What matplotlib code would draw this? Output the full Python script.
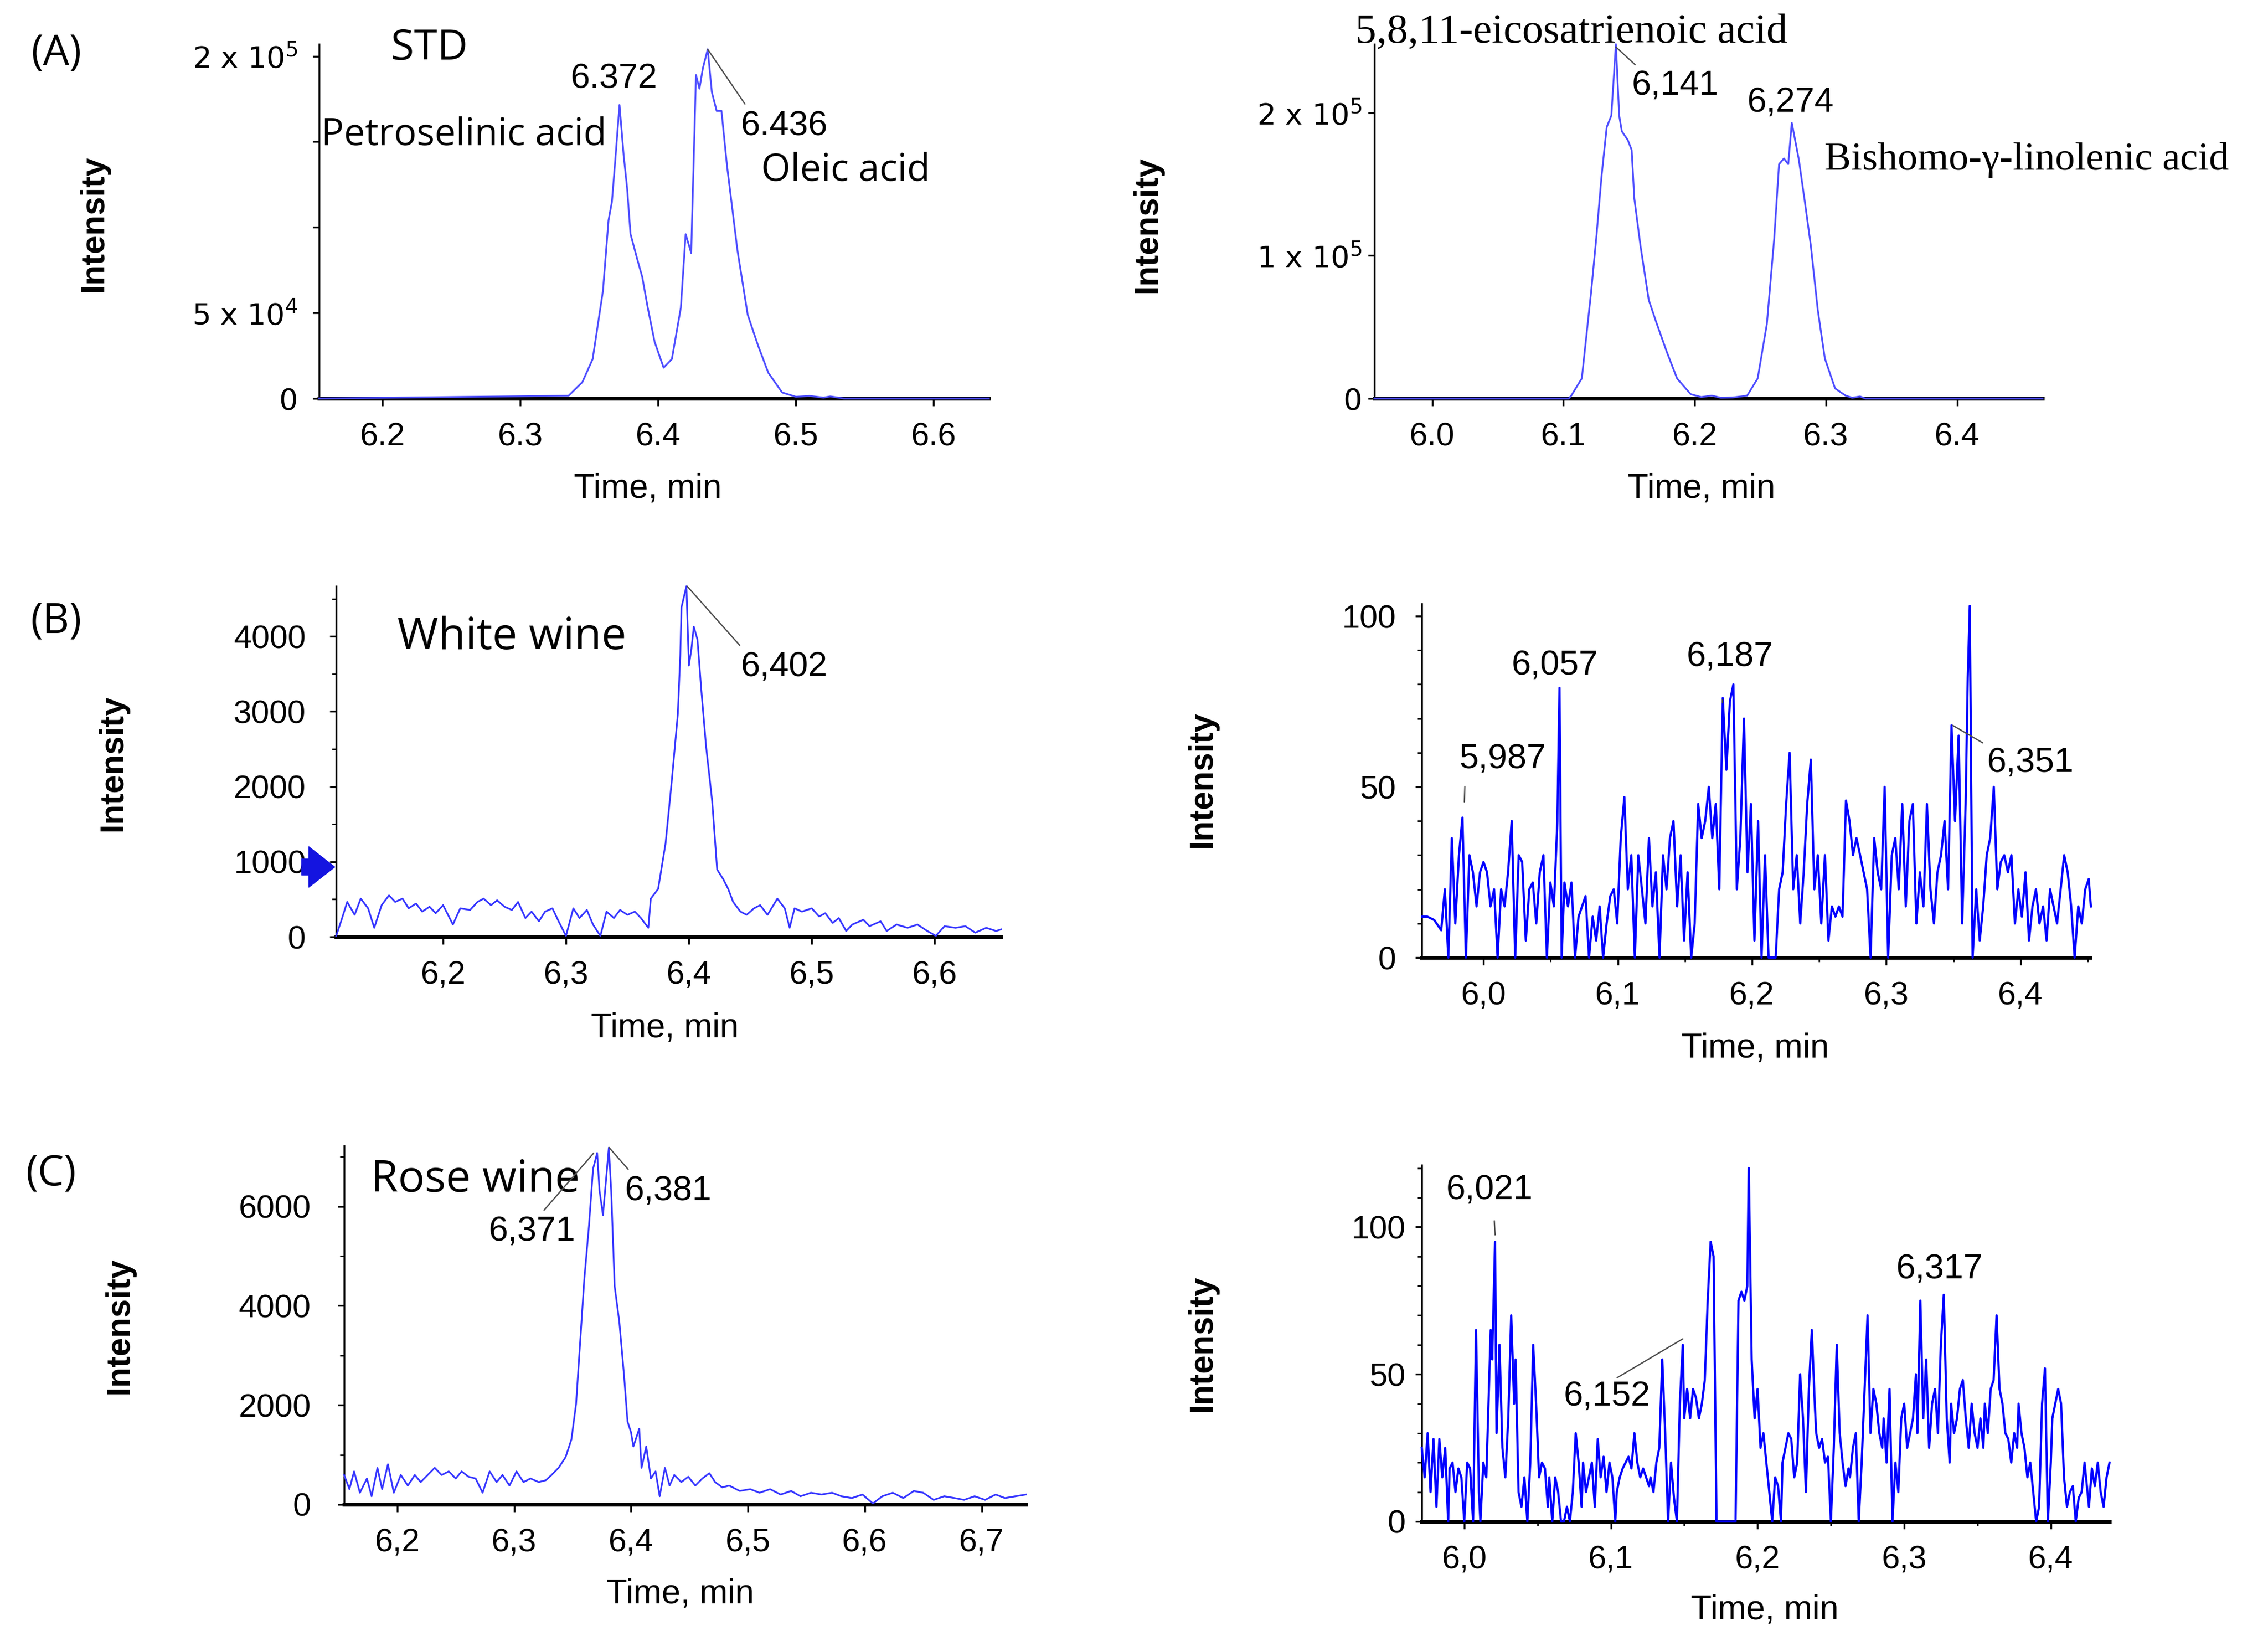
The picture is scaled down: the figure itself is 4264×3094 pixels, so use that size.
import matplotlib.pyplot as plt
from matplotlib.ticker import MultipleLocator

plt.rcParams['font.family'] = ['Liberation Sans', 'DejaVu Sans']
plt.rcParams['mathtext.fontset'] = 'dejavusans'
plt.rcParams['mathtext.default'] = 'regular'

# ---------------------------------------------------------------- data
# (A) standards: petroselinic / oleic acid
std1_time = [6.154, 6.335, 6.345, 6.3525, 6.36, 6.364, 6.3665, 6.369, 6.372,
             6.375, 6.3775, 6.38, 6.385, 6.3885, 6.3925, 6.3975, 6.404, 6.41,
             6.4165, 6.42, 6.424, 6.4275, 6.43, 6.4325, 6.436, 6.439, 6.4425,
             6.446, 6.45, 6.4575, 6.465, 6.4725, 6.48, 6.49, 6.5, 6.51, 6.52,
             6.525, 6.535, 6.64]
std1_intensity = [0, 1600, 9500, 23000, 63000, 104000, 115000, 140000, 171500,
                  142000, 123000, 96000, 81000, 71000, 53000, 33000, 18000,
                  23000, 53000, 96000, 85000, 189000, 181000, 193000, 204000,
                  179000, 168000, 168000, 136000, 87000, 49000, 31000, 15000,
                  3500, 1000, 1500, 500, 1200, 0, 0]

# (A) standards: 5,8,11-eicosatrienoic / bishomo-gamma-linolenic acid
std2_time = [5.956, 6.104, 6.106, 6.114, 6.121, 6.125, 6.129, 6.133, 6.1365,
             6.140, 6.1425, 6.1445, 6.149, 6.152, 6.154, 6.1587, 6.165, 6.1705,
             6.1786, 6.1866, 6.197, 6.205, 6.213, 6.22, 6.229, 6.236, 6.24,
             6.248, 6.255, 6.2606, 6.2643, 6.268, 6.2713, 6.274, 6.2794, 6.2842,
             6.2885, 6.2938, 6.2992, 6.307, 6.315, 6.32, 6.326, 6.33, 6.465]
std2_intensity = [0, 0, 2000, 14000, 73500, 112000, 155000, 190000, 198000,
                  248000, 198000, 187000, 181000, 174000, 140000, 107000, 69000,
                  54000, 33000, 14000, 3000, 1000, 2000, 500, 700, 1500, 2000,
                  14000, 52000, 112000, 164000, 168000, 164000, 193000, 167000,
                  136000, 107000, 62000, 28000, 7000, 2000, 500, 1400, 0, 0]

# (B) white wine, left trace
white1_time = [6.113, 6.117, 6.122, 6.128, 6.133, 6.139, 6.144, 6.150, 6.156, 6.161,
               6.167, 6.172, 6.178, 6.183, 6.189, 6.194, 6.200, 6.208, 6.214, 6.222,
               6.228, 6.233, 6.239, 6.244, 6.250, 6.256, 6.261, 6.267, 6.272, 6.278,
               6.283, 6.289, 6.294, 6.300, 6.306, 6.311, 6.317, 6.322, 6.328, 6.333,
               6.339, 6.344, 6.350, 6.356, 6.361, 6.367, 6.369, 6.375, 6.381, 6.386,
               6.391, 6.393, 6.394, 6.398, 6.400, 6.402, 6.404, 6.407, 6.410, 6.414,
               6.419, 6.423, 6.428, 6.432, 6.436, 6.442, 6.447, 6.453, 6.458, 6.464,
               6.472, 6.478, 6.482, 6.486, 6.492, 6.500, 6.506, 6.511, 6.517, 6.522,
               6.528, 6.533, 6.542, 6.547, 6.556, 6.561, 6.569, 6.578, 6.586, 6.594,
               6.601, 6.608, 6.617, 6.625, 6.633, 6.642, 6.650, 6.654]
white1_intensity = [13, 207, 465, 293, 509, 380, 120, 422, 552, 465,
                    509, 380, 444, 336, 401, 315, 422, 164, 380, 358,
                    465, 509, 422, 487, 401, 358, 465, 250, 336, 207,
                    336, 380, 207, 13, 380, 250, 358, 164, 13, 336,
                    250, 358, 293, 336, 250, 120, 509, 638, 1241, 2060,
                    2965, 3741, 4388, 4668, 3612, 3827, 4129, 3957, 3310, 2534,
                    1802, 896, 767, 638, 465, 336, 293, 380, 422, 293,
                    509, 380, 120, 380, 336, 380, 271, 315, 185, 250,
                    78, 164, 228, 142, 207, 78, 164, 120, 164, 78,
                    13, 142, 120, 142, 56, 120, 78, 99]

# (B) white wine, right trace
white2_time = [5.9544, 5.9581, 5.9633, 5.9685, 5.9712, 5.9738, 5.9764, 5.9790, 5.9817, 5.9843,
               5.9869, 5.9895, 5.9921, 5.9948, 5.9974, 6.0000, 6.0026, 6.0052, 6.0079, 6.0105,
               6.0131, 6.0157, 6.0183, 6.0210, 6.0236, 6.0262, 6.0288, 6.0315, 6.0341, 6.0367,
               6.0393, 6.0419, 6.0446, 6.0472, 6.0498, 6.0524, 6.0550, 6.0566, 6.0582, 6.0603,
               6.0629, 6.0655, 6.0682, 6.0708, 6.0734, 6.0760, 6.0786, 6.0813, 6.0839, 6.0865,
               6.0891, 6.0917, 6.0944, 6.0970, 6.0996, 6.1022, 6.1049, 6.1075, 6.1101, 6.1127,
               6.1153, 6.1180, 6.1206, 6.1232, 6.1258, 6.1284, 6.1311, 6.1337, 6.1363, 6.1389,
               6.1415, 6.1442, 6.1468, 6.1494, 6.1520, 6.1547, 6.1573, 6.1599, 6.1625, 6.1651,
               6.1678, 6.1704, 6.1730, 6.1756, 6.1782, 6.1809, 6.1835, 6.1861, 6.1887, 6.1913,
               6.1940, 6.1966, 6.1992, 6.2018, 6.2045, 6.2071, 6.2097, 6.2123, 6.2149, 6.2176,
               6.2202, 6.2228, 6.2254, 6.2280, 6.2307, 6.2333, 6.2359, 6.2385, 6.2411, 6.2438,
               6.2464, 6.2490, 6.2516, 6.2543, 6.2569, 6.2595, 6.2621, 6.2647, 6.2674, 6.2700,
               6.2726, 6.2752, 6.2778, 6.2805, 6.2831, 6.2857, 6.2883, 6.2910, 6.2936, 6.2962,
               6.2988, 6.3014, 6.3041, 6.3067, 6.3093, 6.3119, 6.3145, 6.3172, 6.3198, 6.3224,
               6.3250, 6.3277, 6.3303, 6.3329, 6.3355, 6.3381, 6.3408, 6.3434, 6.3460, 6.3486,
               6.3512, 6.3539, 6.3565, 6.3591, 6.3607, 6.3622, 6.3643, 6.3670, 6.3696, 6.3722,
               6.3748, 6.3774, 6.3801, 6.3827, 6.3853, 6.3879, 6.3906, 6.3932, 6.3958, 6.3984,
               6.4010, 6.4037, 6.4063, 6.4089, 6.4115, 6.4141, 6.4168, 6.4194, 6.4220, 6.4246,
               6.4272, 6.4299, 6.4325, 6.4351, 6.4377, 6.4403, 6.4430, 6.4456, 6.4482, 6.4508,
               6.4524]
white2_intensity = [12, 12, 11, 8, 20, 0, 35, 10, 30, 41,
                    0, 30, 25, 15, 25, 28, 25, 15, 20, 0,
                    20, 15, 25, 40, 0, 30, 28, 5, 20, 22,
                    10, 25, 30, 0, 22, 15, 40, 79, 0, 22,
                    15, 22, 0, 12, 15, 18, 0, 12, 5, 15,
                    0, 10, 18, 20, 10, 35, 47, 20, 30, 0,
                    30, 20, 10, 35, 15, 25, 0, 30, 20, 35,
                    40, 15, 30, 5, 25, 0, 10, 45, 35, 40,
                    50, 35, 45, 20, 76, 55, 75, 80, 20, 35,
                    70, 25, 45, 5, 40, 0, 30, 0, 0, 0,
                    20, 25, 45, 60, 20, 30, 10, 25, 45, 58,
                    20, 30, 10, 30, 5, 15, 12, 15, 12, 46,
                    40, 30, 35, 30, 25, 20, 0, 35, 25, 20,
                    50, 0, 30, 35, 20, 45, 15, 40, 45, 10,
                    25, 15, 45, 20, 10, 25, 30, 40, 20, 68,
                    40, 65, 10, 45, 82, 103, 0, 20, 5, 15,
                    30, 35, 50, 20, 28, 30, 25, 30, 10, 20,
                    12, 25, 5, 15, 20, 10, 15, 5, 20, 15,
                    10, 20, 30, 25, 15, 0, 15, 10, 20, 23,
                    15]

# (C) rose wine, left trace
rose1_time = [6.1545, 6.159, 6.163, 6.168, 6.174, 6.178, 6.183, 6.187, 6.192, 6.197,
              6.203, 6.209, 6.215, 6.220, 6.226, 6.232, 6.238, 6.244, 6.250, 6.255,
              6.261, 6.267, 6.273, 6.279, 6.285, 6.290, 6.296, 6.302, 6.308, 6.314,
              6.321, 6.327, 6.332, 6.338, 6.344, 6.349, 6.353, 6.357, 6.360, 6.364,
              6.3675, 6.371, 6.373, 6.376, 6.381, 6.383, 6.386, 6.390, 6.394, 6.397,
              6.400, 6.402, 6.407, 6.409, 6.413, 6.417, 6.421, 6.4245, 6.429, 6.433,
              6.437, 6.443, 6.449, 6.455, 6.461, 6.467, 6.472, 6.478, 6.484, 6.493,
              6.502, 6.510, 6.519, 6.528, 6.537, 6.545, 6.554, 6.563, 6.572, 6.580,
              6.589, 6.598, 6.607, 6.615, 6.624, 6.633, 6.642, 6.650, 6.659, 6.668,
              6.677, 6.685, 6.694, 6.703, 6.712, 6.720, 6.729, 6.738]
rose1_intensity = [594, 308, 666, 236, 523, 165, 737, 308, 809, 236,
                   594, 380, 594, 451, 594, 737, 594, 666, 523, 666,
                   558, 523, 236, 666, 451, 594, 380, 666, 451, 523,
                   451, 487, 594, 737, 952, 1310, 2026, 3458, 4532, 5606,
                   6752, 7074, 6322, 5821, 7181, 6322, 4389, 3673, 2599, 1668,
                   1453, 1167, 1525, 737, 1167, 523, 666, 165, 737, 380,
                   594, 451, 558, 380, 523, 630, 451, 344, 380, 272,
                   308, 236, 308, 200, 272, 165, 236, 200, 236, 165,
                   129, 200, 21, 165, 236, 129, 272, 236, 93, 165,
                   129, 93, 165, 93, 200, 129, 165, 200]

# (C) rose wine, right trace
rose2_time = [5.971, 5.973, 5.975, 5.977, 5.979, 5.981, 5.983, 5.985, 5.987, 5.989,
              5.990, 5.992, 5.994, 5.996, 5.998, 6.000, 6.002, 6.004, 6.006, 6.008,
              6.010, 6.011, 6.013, 6.015, 6.018, 6.019, 6.021, 6.022, 6.024, 6.026,
              6.028, 6.030, 6.032, 6.034, 6.035, 6.037, 6.039, 6.041, 6.043, 6.045,
              6.047, 6.049, 6.051, 6.053, 6.055, 6.057, 6.058, 6.060, 6.062, 6.064,
              6.066, 6.068, 6.070, 6.072, 6.074, 6.076, 6.078, 6.080, 6.081, 6.083,
              6.085, 6.087, 6.089, 6.091, 6.093, 6.095, 6.097, 6.099, 6.101, 6.103,
              6.104, 6.106, 6.108, 6.110, 6.112, 6.114, 6.116, 6.118, 6.120, 6.122,
              6.124, 6.126, 6.127, 6.129, 6.131, 6.133, 6.135, 6.137, 6.139, 6.141,
              6.143, 6.145, 6.147, 6.149, 6.150, 6.152, 6.154, 6.156, 6.158, 6.160,
              6.162, 6.164, 6.166, 6.168, 6.170, 6.172, 6.173, 6.175, 6.177, 6.179,
              6.181, 6.183, 6.185, 6.187, 6.189, 6.191, 6.193, 6.194, 6.196, 6.198,
              6.200, 6.202, 6.204, 6.206, 6.208, 6.210, 6.212, 6.214, 6.216, 6.217,
              6.219, 6.221, 6.223, 6.225, 6.227, 6.229, 6.231, 6.233, 6.235, 6.237,
              6.239, 6.240, 6.242, 6.244, 6.246, 6.248, 6.250, 6.252, 6.254, 6.256,
              6.258, 6.260, 6.262, 6.263, 6.265, 6.267, 6.269, 6.271, 6.273, 6.275,
              6.277, 6.279, 6.281, 6.283, 6.285, 6.286, 6.288, 6.290, 6.292, 6.294,
              6.296, 6.298, 6.300, 6.302, 6.304, 6.306, 6.308, 6.309, 6.311, 6.313,
              6.315, 6.317, 6.319, 6.321, 6.323, 6.325, 6.327, 6.329, 6.331, 6.332,
              6.334, 6.336, 6.338, 6.340, 6.342, 6.344, 6.346, 6.348, 6.350, 6.352,
              6.354, 6.355, 6.357, 6.359, 6.361, 6.363, 6.365, 6.367, 6.369, 6.371,
              6.373, 6.375, 6.377, 6.378, 6.380, 6.382, 6.384, 6.386, 6.388, 6.390,
              6.392, 6.394, 6.396, 6.398, 6.400, 6.401, 6.403, 6.405, 6.407, 6.409,
              6.411, 6.413, 6.415, 6.417, 6.419, 6.421, 6.423, 6.424, 6.426, 6.428,
              6.430, 6.432, 6.434, 6.436, 6.438, 6.440]
rose2_intensity = [25, 15, 30, 10, 28, 5, 28, 15, 25, 0,
                   18, 20, 10, 18, 15, 0, 20, 18, 0, 65,
                   10, 0, 20, 15, 65, 55, 95, 30, 60, 25,
                   15, 35, 70, 40, 55, 10, 5, 15, 0, 20,
                   60, 40, 15, 20, 18, 5, 15, 0, 15, 10,
                   0, 0, 5, 0, 10, 30, 20, 5, 20, 10,
                   15, 20, 5, 28, 15, 22, 10, 20, 15, 0,
                   10, 15, 18, 20, 22, 18, 30, 20, 15, 18,
                   15, 12, 15, 10, 20, 25, 55, 30, 0, 20,
                   8, 0, 40, 60, 35, 45, 35, 45, 42, 35,
                   40, 48, 75, 95, 90, 0, 0, 0, 0, 0,
                   0, 0, 0, 75, 78, 75, 80, 120, 55, 35,
                   45, 25, 30, 20, 10, 0, 15, 12, 0, 20,
                   25, 30, 28, 15, 20, 50, 35, 10, 45, 65,
                   40, 30, 25, 28, 20, 22, 0, 25, 60, 30,
                   20, 12, 18, 15, 25, 30, 0, 20, 45, 70,
                   30, 45, 40, 30, 25, 35, 20, 45, 0, 20,
                   10, 35, 40, 25, 30, 35, 50, 30, 75, 35,
                   55, 25, 40, 45, 30, 60, 77, 35, 20, 40,
                   30, 35, 45, 48, 35, 25, 40, 30, 25, 35,
                   25, 40, 30, 45, 48, 70, 45, 40, 30, 28,
                   20, 30, 25, 40, 30, 25, 15, 20, 10, 0,
                   5, 40, 52, 0, 20, 35, 40, 45, 40, 15,
                   5, 10, 12, 0, 8, 10, 20, 15, 5, 18,
                   12, 20, 10, 5, 15, 20]

# tick values and labels
ticks_std1_x = [6.2, 6.3, 6.4, 6.5, 6.6]
labels_std1_x = ['6.2', '6.3', '6.4', '6.5', '6.6']
ticks_std1_y = [0, 50000, 100000, 150000, 200000]
labels_std1_y = ['0', '5 x 10$^{4}$', '', '', '2 x 10$^{5}$']
ticks_std2_x = [6.0, 6.1, 6.2, 6.3, 6.4]
labels_std2_x = ['6.0', '6.1', '6.2', '6.3', '6.4']
ticks_std2_y = [0, 100000, 200000]
labels_std2_y = ['0', '1 x 10$^{5}$', '2 x 10$^{5}$']
ticks_white1_x = [6.2, 6.3, 6.4, 6.5, 6.6]
labels_white1_x = ['6,2', '6,3', '6,4', '6,5', '6,6']
ticks_white1_y = [0, 1000, 2000, 3000, 4000]
ticks_right_x = [6.0, 6.1, 6.2, 6.3, 6.4]
labels_right_x = ['6,0', '6,1', '6,2', '6,3', '6,4']
ticks_right_y = [0, 50, 100]
ticks_rose1_x = [6.2, 6.3, 6.4, 6.5, 6.6, 6.7]
labels_rose1_x = ['6,2', '6,3', '6,4', '6,5', '6,6', '6,7']
ticks_rose1_y = [0, 2000, 4000, 6000]

# ---------------------------------------------------------------- layout
W, H, DPI = 4264, 3094, 100
fig = plt.figure(figsize=(W / DPI, H / DPI), dpi=DPI)

SANS = ['Liberation Sans', 'DejaVu Sans']
CAL = ['Open Sans', 'DejaVu Sans']
SERIF = ['Liberation Serif', 'DejaVu Serif']
NUM_SIZE = 47


def make_axes(box, xlim, ylim, ypad):
    left, top, right, bottom = box
    ax = fig.add_axes([left / W, 1 - bottom / H, (right - left) / W, (bottom - top) / H])
    ax.set_xlim(*xlim)
    ax.set_ylim(*ylim)
    ax.patch.set_alpha(0)
    ax.spines['top'].set_visible(False)
    ax.spines['right'].set_visible(False)
    ax.spines['left'].set_linewidth(2.5)
    ax.spines['bottom'].set_linewidth(5)
    ax.tick_params(axis='x', which='major', direction='out', length=10,
                   width=2.5, pad=22, labelsize=44)
    ax.tick_params(axis='y', which='major', direction='out', length=9,
                   width=2.5, pad=ypad, labelsize=44)
    ax.tick_params(which='minor', direction='out', length=6, width=2)
    return ax


def peak_label(ax, text, peak, pos, relpos, gap=8):
    ax.annotate(text, xy=peak, xytext=pos, ha='center', va='center',
                fontsize=NUM_SIZE, family=SANS, annotation_clip=False,
                arrowprops=dict(arrowstyle='-', color='0.3', lw=1.8,
                                relpos=relpos, shrinkA=gap, shrinkB=0))


def fig_text(x, y, s, **kw):
    fig.text(x / W, 1 - y / H, s, ha='center', va='center', **kw)


# (A) left
ax = make_axes((600, 83, 1859, 749), (6.154, 6.640), (0, 207000), 20)
ax.plot(std1_time, std1_intensity, color='#4d4dff', lw=2.4, zorder=3, clip_on=False)
ax.set_xticks(ticks_std1_x, labels_std1_x)
ax.set_yticks(ticks_std1_y, labels_std1_y, fontsize=40, family='DejaVu Sans')
ax.text(6.234, 204500, 'STD', fontsize=57, family=CAL, ha='center', va='center')
ax.text(6.259, 153500, 'Petroselinic acid', fontsize=51, family=CAL, ha='center', va='center')
ax.text(6.536, 132700, 'Oleic acid', fontsize=51, family=CAL, ha='center', va='center')
ax.text(6.368, 186500, '6.372', fontsize=NUM_SIZE, ha='center', va='center')
peak_label(ax, '6.436', (6.436, 204000), (6.4914, 159000), (0.1, 1.0))

# (A) right
ax = make_axes((2584, 83, 3840, 749), (5.956, 6.465), (0, 248000), 8)
ax.plot(std2_time, std2_intensity, color='#4d4dff', lw=2.4, zorder=3, clip_on=False)
ax.set_xticks(ticks_std2_x, labels_std2_x)
ax.set_yticks(ticks_std2_y, labels_std2_y, fontsize=40, family='DejaVu Sans')
ax.text(6.106, 256200, '5,8,11-eicosatrienoic acid', fontsize=57, family=SERIF,
        ha='center', va='center')
ax.text(6.2989, 166800, 'Bishomo-\u03b3-linolenic acid', fontsize=54, family=SERIF,
        ha='left', va='center')
ax.text(6.273, 206700, '6,274', fontsize=NUM_SIZE, ha='center', va='center')
peak_label(ax, '6,141', (6.140, 246000), (6.185, 218600), (0.11, 1.0))

# (B) left
ax = make_axes((632, 1102, 1882, 1761), (6.113, 6.654), (0, 4668), 32)
ax.plot(white1_time, white1_intensity, color='#3535ff', lw=2.3, zorder=3, clip_on=False)
ax.set_xticks(ticks_white1_x, labels_white1_x)
ax.set_yticks(ticks_white1_y)
ax.yaxis.set_minor_locator(MultipleLocator(500))
ax.text(6.2558, 3981, 'White wine', fontsize=60, family=CAL, ha='center', va='center')
peak_label(ax, '6,402', (6.3986, 4668), (6.4774, 3591), (0.05, 1.0))
ax.annotate('', xy=(-0.002, 930), xytext=(-0.052, 930),
            xycoords=('axes fraction', 'data'), textcoords=('axes fraction', 'data'),
            annotation_clip=False,
            arrowprops=dict(arrowstyle='simple,head_length=0.8,head_width=1.25,tail_width=0.5',
                            color='#1414e0', mutation_scale=44, shrinkA=0, shrinkB=0))

# (B) right
ax = make_axes((2673, 1135, 3930, 1800), (5.954, 6.452), (0, 103.6), 26)
ax.plot(white2_time, white2_intensity, color='#0000ff', lw=3.0, zorder=3, clip_on=False)
ax.set_xticks(ticks_right_x, labels_right_x)
ax.set_yticks(ticks_right_y)
ax.xaxis.set_minor_locator(MultipleLocator(0.05))
ax.yaxis.set_minor_locator(MultipleLocator(10))
ax.text(6.053, 85.5, '6,057', fontsize=NUM_SIZE, ha='center', va='center')
peak_label(ax, '5,987', (5.9857, 45.6), (6.0142, 58.0), (0.07, 0.0), gap=13)
peak_label(ax, '6,187', (6.178, 74.6), (6.1834, 87.9), (0.41, 0.0), gap=34)
peak_label(ax, '6,351', (6.3495, 68.0), (6.4073, 56.9), (0.04, 1.0))

# (C) left
ax = make_axes((647, 2154, 1929, 2828), (6.1545, 6.738), (0, 7215), 36)
ax.plot(rose1_time, rose1_intensity, color='#3535ff', lw=2.3, zorder=3, clip_on=False)
ax.set_xticks(ticks_rose1_x, labels_rose1_x)
ax.set_yticks(ticks_rose1_y)
ax.yaxis.set_minor_locator(MultipleLocator(1000))
ax.text(6.2669, 6519, 'Rose wine', fontsize=60, family=CAL, ha='center', va='center')
peak_label(ax, '6,371', (6.3680, 7070), (6.3152, 5481), (0.58, 1.0))
peak_label(ax, '6,381', (6.3812, 7183), (6.4317, 6305), (0.1, 1.0))

# (C) right
ax = make_axes((2673, 2190, 3966, 2860), (5.971, 6.440), (0, 121), 13)
ax.plot(rose2_time, rose2_intensity, color='#0000ff', lw=3.0, zorder=3, clip_on=False)
ax.set_xticks(ticks_right_x, labels_right_x)
ax.set_yticks(ticks_right_y)
ax.xaxis.set_minor_locator(MultipleLocator(0.05))
ax.yaxis.set_minor_locator(MultipleLocator(10))
ax.text(6.3239, 85.6, '6,317', fontsize=NUM_SIZE, ha='center', va='center')
peak_label(ax, '6,021', (6.021, 97.3), (6.017, 112.5), (0.55, 0.0), gap=18)
peak_label(ax, '6,152', (6.149, 62.0), (6.0973, 42.4), (0.56, 1.0), gap=4)

# panel letters, axis titles
for x, y, s in [(106, 101, '(A)'), (106, 1169, '(B)'), (96, 2207, '(C)')]:
    fig_text(x, y, s, fontsize=56, family=CAL)
for x, y in [(176, 420), (2157, 422), (212, 1434), (2260, 1465), (224, 2492), (2260, 2525)]:
    fig_text(x, y, 'Intensity', fontsize=45, fontweight='bold', rotation=90, family=SANS)
for x, y in [(1218, 918), (3199, 918), (1250, 1933), (3300, 1971), (1279, 2997), (3318, 3027)]:
    fig_text(x, y, 'Time, min', fontsize=46, family=SANS)

fig.savefig('out.png', dpi=DPI, facecolor='white')
